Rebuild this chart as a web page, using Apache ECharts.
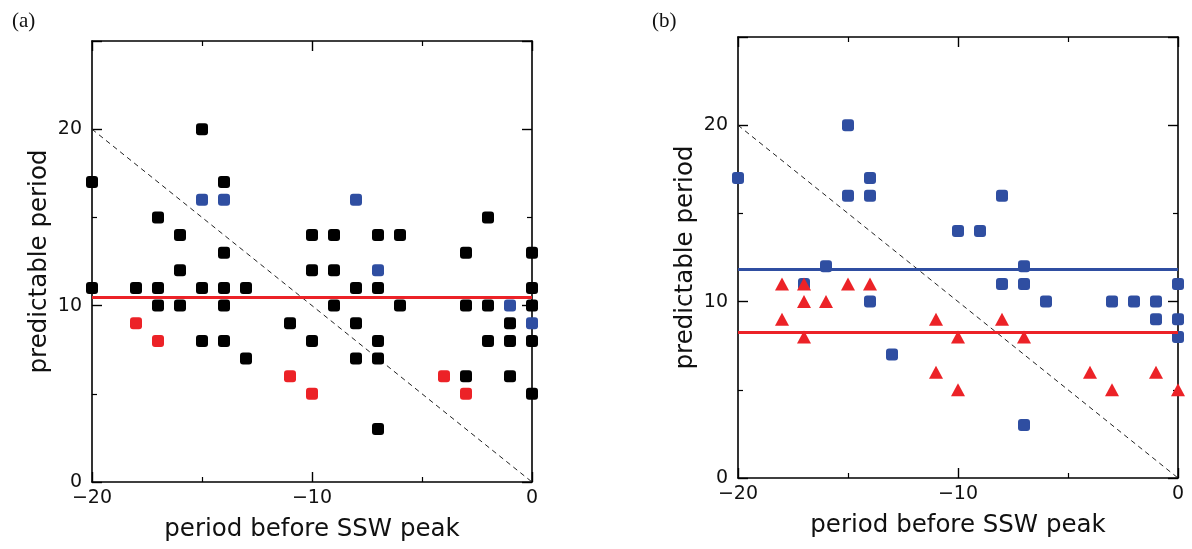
<!DOCTYPE html>
<html>
<head>
<meta charset="utf-8">
<script src="https://cdn.jsdelivr.net/npm/echarts@6/dist/echarts.min.js"></script>
<style>
html,body{margin:0;padding:0;background:#fff;}
#chart{width:1192px;height:549px;}
</style>
</head>
<body>
<div id="chart"></div>
<script>
// ---- Data ----
const xTicks = [-20, -10, 0];
const yTicks = [0, 10, 20];
// Panel (a)
const aBlack = [[-20,17],[-20,11],[-18,11],[-17,15],[-17,11],[-17,10],[-16,14],[-16,12],[-16,10],
  [-15,20],[-15,11],[-15,8],[-14,17],[-14,13],[-14,11],[-14,10],[-14,8],[-13,11],[-13,7],[-11,9],
  [-10,14],[-10,12],[-10,8],[-9,14],[-9,12],[-9,10],[-8,11],[-8,9],[-8,7],
  [-7,14],[-7,11],[-7,8],[-7,7],[-7,3],[-6,14],[-6,10],[-3,13],[-3,10],[-3,6],
  [-2,15],[-2,10],[-2,8],[-1,9],[-1,8],[-1,6],[0,13],[0,11],[0,10],[0,8],[0,5]];
const aBlue = [[-15,16],[-14,16],[-8,16],[-7,12],[-1,10],[0,9]];
const aRed = [[-18,9],[-17,8],[-11,6],[-10,5],[-4,6],[-3,5]];
const aMean = 10.5;
// Panel (b)
const bBlue = [[-20,17],[-17,11],[-16,12],[-15,20],[-15,16],[-14,17],[-14,16],[-14,10],[-13,7],
  [-10,14],[-9,14],[-8,16],[-8,11],[-7,12],[-7,11],[-7,3],[-6,10],[-3,10],[-2,10],[-1,10],
  [-1,9],[0,11],[0,9],[0,8]];
const bRed = [[-18,11],[-18,9],[-17,11],[-17,10],[-17,8],[-16,10],[-15,11],[-14,11],[-11,9],
  [-11,6],[-10,8],[-10,5],[-8,9],[-7,8],[-4,6],[-3,5],[-1,6],[0,5]];
const bBlueMean = 11.85;
const bRedMean = 8.25;
const diagonal = [[-20,20],[0,0]];
const xName = 'period before SSW peak';
const yName = 'predictable period';

// ---- Styles ----
const BLACK = '#000';
const BLUE = '#2f4ea1';
const RED = '#ec2227';
const FONT = 'DejaVu Sans';

function xAx(grid, pos, main) {
  return {
    type: 'value', gridIndex: grid, position: pos, min: -20, max: 0, interval: 10,
    axisLine: {show: true, onZero: false, lineStyle: {color: BLACK, width: 1.6}},
    axisTick: {show: true, inside: true, length: 10, lineStyle: {color: BLACK, width: 1.4}},
    minorTick: {show: true, splitNumber: 2, length: 5, lineStyle: {color: BLACK, width: 1.2}},
    splitLine: {show: false},
    axisLabel: {show: main, margin: 7, fontFamily: FONT, fontSize: 19, color: '#111',
      formatter: v => String(v).replace('-', '\u2212')},
    name: main ? xName : '', nameLocation: 'middle', nameGap: 35,
    nameTextStyle: {fontFamily: FONT, fontSize: 24.5, color: '#111'}
  };
}
function yAx(grid, pos, main) {
  return {
    type: 'value', gridIndex: grid, position: pos, min: 0, max: 25, interval: 10,
    axisLine: {show: true, onZero: false, lineStyle: {color: BLACK, width: 1.6}},
    axisTick: {show: true, inside: true, length: 10, lineStyle: {color: BLACK, width: 1.4}},
    minorTick: {show: true, splitNumber: 2, length: 5, lineStyle: {color: BLACK, width: 1.2}},
    splitLine: {show: false},
    axisLabel: {show: main, margin: 10, fontFamily: FONT, fontSize: 19, color: '#111',
      formatter: v => (yTicks.indexOf(v) >= 0 ? String(v) : '')},
    name: main ? yName : '', nameLocation: 'middle', nameGap: 40, nameRotate: 90,
    nameTextStyle: {fontFamily: FONT, fontSize: 24.5, color: '#111'}
  };
}

function scatter(xi, yi, data, color, symbol, size) {
  return {type: 'scatter', xAxisIndex: xi, yAxisIndex: yi, data: data, symbol: symbol,
    symbolSize: size, itemStyle: {color: color, opacity: 1}, z: 3};
}
function diag(xi, yi) {
  return {type: 'line', xAxisIndex: xi, yAxisIndex: yi, data: diagonal, symbol: 'none',
    lineStyle: {color: '#222', width: 1, type: [5, 4]}, z: 2};
}
function hline(xi, yi, val, color) {
  return {type: 'line', xAxisIndex: xi, yAxisIndex: yi, data: [], z: 4,
    markLine: {silent: true, symbol: ['none', 'none'], label: {show: false},
      lineStyle: {color: color, width: 3, type: 'solid'}, data: [{yAxis: val}]}};
}

const chart = echarts.init(document.getElementById('chart'), null, {renderer: 'canvas'});
chart.setOption({
  animation: false,
  backgroundColor: '#fff',
  title: [
    {text: '(a)', left: 7, top: 6, textStyle: {fontFamily: 'Liberation Serif', fontSize: 21, fontWeight: 'normal', color: '#111'}},
    {text: '(b)', left: 647, top: 6, textStyle: {fontFamily: 'Liberation Serif', fontSize: 21, fontWeight: 'normal', color: '#111'}}
  ],
  grid: [
    {left: 92, top: 41, width: 440, height: 441},
    {left: 738, top: 37, width: 440, height: 441}
  ],
  xAxis: [xAx(0, 'bottom', true), xAx(0, 'top', false), xAx(1, 'bottom', true), xAx(1, 'top', false)],
  yAxis: [yAx(0, 'left', true), yAx(0, 'right', false), yAx(1, 'left', true), yAx(1, 'right', false)],
  series: [
    diag(0, 0),
    hline(0, 0, aMean, RED),
    scatter(0, 0, aBlack, BLACK, 'roundRect', 12),
    scatter(0, 0, aBlue, BLUE, 'roundRect', 12),
    scatter(0, 0, aRed, RED, 'roundRect', 12),
    diag(2, 2),
    hline(2, 2, bBlueMean, BLUE),
    hline(2, 2, bRedMean, RED),
    scatter(2, 2, bBlue, BLUE, 'roundRect', 12),
    scatter(2, 2, bRed, RED, 'triangle', [14, 13])
  ]
});
</script>
</body>
</html>
